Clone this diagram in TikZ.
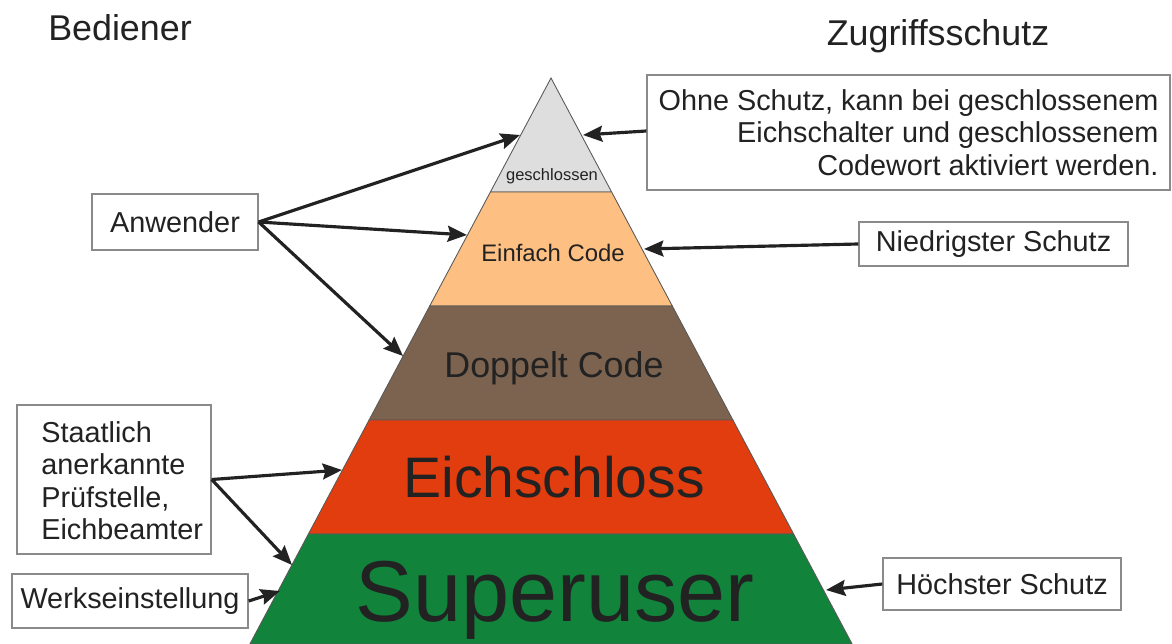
\documentclass[tikz,border=0pt]{standalone}
\usepackage{fontspec}
\setmainfont{Liberation Sans}
\usetikzlibrary{arrows.meta}
\definecolor{bandgrau}{HTML}{DEDEDE}
\definecolor{bandorange}{HTML}{FEC082}
\definecolor{bandbraun}{HTML}{7B6350}
\definecolor{bandrot}{HTML}{E13D0E}
\definecolor{bandgruen}{HTML}{11833B}
\definecolor{textdunkel}{HTML}{222222}
\definecolor{rahmen}{HTML}{8A8A8A}

\begin{document}
\begin{tikzpicture} [x=0.02cm, y=-0.02cm,
            box_style/.style={draw=rahmen, line width=0.8pt, fill=white, text=textdunkel, inner sep=0pt, font=\fontsize{16.4}{18.5}\selectfont},
            arrow_style/.style={draw=textdunkel, line width=1.8pt, -{Stealth[length=11pt,width=9pt,inset=1.5pt]}},
            band_style/.style={draw=black!65, line width=0.5pt},
            label_style/.style={text=textdunkel, anchor=base, inner sep=0pt}]
            \useasboundingbox (0,0) rectangle (1172,644);
            % pyramid
            \filldraw[band_style, fill=bandgrau] (551,78) -- (611.6,192) -- (490.4,192) -- cycle;
            \filldraw[band_style, fill=bandorange] (490.4,192) -- (611.6,192) -- (672.3,306) -- (429.7,306) -- cycle;
            \filldraw[band_style, fill=bandbraun] (429.7,306) -- (672.3,306) -- (732.9,420) -- (369.1,420) -- cycle;
            \filldraw[band_style, fill=bandrot] (369.1,420) -- (732.9,420) -- (793.6,534) -- (308.4,534) -- cycle;
            \filldraw[band_style, fill=bandgruen] (308.4,534) -- (793.6,534) -- (852.1,644) -- (249.9,644) -- cycle;
            \node[label_style, font=\fontsize{9.4}{11}\selectfont] (geschl) at (552,181) {geschlossen};
            \node[label_style, font=\fontsize{13.6}{16}\selectfont] (einfach) at (553,262) {Einfach Code};
            \node[label_style, font=\fontsize{20.4}{24}\selectfont] (doppelt) at (554,378) {Doppelt Code};
            \node[label_style, font=\fontsize{32.5}{38}\selectfont] (eichschloss) at (554,498) {Eichschloss};
            \node[label_style, font=\fontsize{49.2}{58}\selectfont] (superuser) at (555,621) {Superuser};
            % headings
            \node[label_style, font=\fontsize{20.4}{24}\selectfont] (bediener) at (120,41) {Bediener};
            \node[label_style, font=\fontsize{20.4}{24}\selectfont] (zugriff) at (938,46) {Zugriffsschutz};
            % boxes
            \node[box_style, minimum width=3.32cm, minimum height=1.12cm] (anw) at (175,222) {Anwender};
            \node[box_style, minimum width=3.88cm, minimum height=2.98cm] (pruef) at (114,479.5) {};
            \node[label_style, anchor=west, align=left, font=\fontsize{16.4}{18.5}\selectfont] (pruef_text) at (41,480.5) {Staatlich\\anerkannte\\Prüfstelle,\\Eichbeamter};
            \node[box_style, minimum width=4.72cm, minimum height=1.08cm] (werk) at (130,601) {Werkseinstellung};
            \node[box_style, minimum width=10.46cm, minimum height=2.3cm, align=right] (ohne) at (908.5,132.5) {Ohne Schutz, kann bei geschlossenem\\Eichschalter und geschlossenem\\Codewort aktiviert werden.};
            \node[box_style, minimum width=5.38cm, minimum height=0.88cm] (niedrig) at (993.5,244) {Niedrigster Schutz};
            \node[box_style, minimum width=4.76cm, minimum height=1.04cm] (hoechst) at (1002,584) {Höchster Schutz};
            % arrow ends on the pyramid
            \coordinate (g_links) at (520,135);
            \coordinate (g_rechts) at (583,135);
            \coordinate (e_links) at (467,235);
            \coordinate (e_rechts) at (644,249);
            \coordinate (d_links) at (403,356);
            \coordinate (r_links) at (342,470);
            \coordinate (s_links) at (292,565);
            \coordinate (s_links2) at (280,591);
            \coordinate (s_rechts) at (826,590);
            % arrows
            \draw[arrow_style] (anw.east) -- (g_links);
            \draw[arrow_style] (anw.east) -- (e_links);
            \draw[arrow_style] (anw.east) -- (d_links);
            \draw[arrow_style] (ohne.west |- 0,131) -- (g_rechts);
            \draw[arrow_style] (niedrig.west) -- (e_rechts);
            \draw[arrow_style] (pruef.east) -- (r_links);
            \draw[arrow_style] (pruef.east) -- (s_links);
            \draw[arrow_style] (werk.east) -- (s_links2);
            \draw[arrow_style] (hoechst.west) -- (s_rechts);
        \end{tikzpicture}
\end{document}
